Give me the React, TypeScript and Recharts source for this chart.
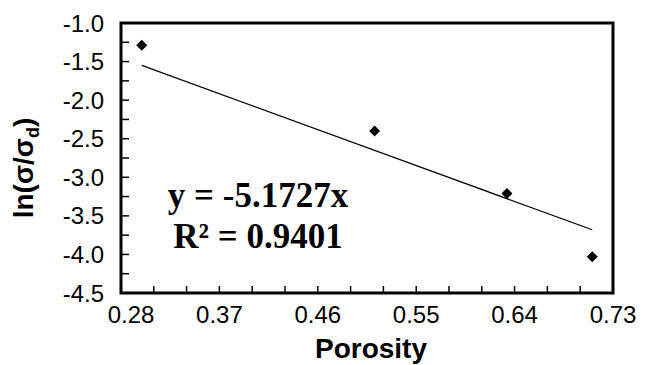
import { ScatterChart, Scatter, XAxis, YAxis, ReferenceArea, Label } from "recharts";

// points
const porosity = [0.299, 0.512, 0.633, 0.711];
const lnRatio = [-1.29, -2.4, -3.21, -4.03];

// ends of the fitted line (y = -5.1727x)
const trendPorosity = [0.299, 0.711];
const trendLnRatio = [-1.55, -3.68];

const xTicks = [0.28, 0.31, 0.34, 0.37, 0.4, 0.43, 0.46, 0.49, 0.52, 0.55, 0.58, 0.61, 0.64, 0.67, 0.7, 0.73];
const xTickLabels = ["0.28", "0.37", "0.46", "0.55", "0.64", "0.73"];
const yTicks = [-4.5, -4.25, -4, -3.75, -3.5, -3.25, -3, -2.75, -2.5, -2.25, -2, -1.75, -1.5, -1.25, -1];
const yTickLabels = ["-4.5", "-4.0", "-3.5", "-3.0", "-2.5", "-2.0", "-1.5", "-1.0"];

const SANS = "'Liberation Sans', Arial, sans-serif";
const SERIF = "'Liberation Serif', 'Times New Roman', serif";

const points = porosity.map((x, i) => ({ x, y: lnRatio[i] }));
const trend = trendPorosity.map((x, i) => ({ x, y: trendLnRatio[i] }));

const Diamond = (props: any) => {
  const { cx, cy } = props;
  const r = 5.5;
  return (
    <polygon
      points={`${cx},${cy - r} ${cx + r},${cy} ${cx},${cy + r} ${cx - r},${cy}`}
      fill="#000"
    />
  );
};

const XTick = (props: any) => {
  const { x, y, payload, index } = props;
  const label = Number(payload.value).toFixed(2);
  const major = xTickLabels.includes(label);
  return (
    <g>
      <line x1={x} y1={y} x2={x} y2={y - 7} stroke="#000" strokeWidth={1.5} />
      {major && (
        <text
          x={x + (index === 0 ? 10 : 0)}
          y={y + 30}
          textAnchor="middle"
          fontFamily={SANS}
          fontSize={24}
          fill="#000"
        >
          {label}
        </text>
      )}
    </g>
  );
};

const YTick = (props: any) => {
  const { x, y, payload } = props;
  const label = Number(payload.value).toFixed(1);
  const major = yTickLabels.includes(label) && Math.abs(payload.value * 2 - Math.round(payload.value * 2)) < 1e-9;
  return (
    <g>
      <line x1={x} y1={y} x2={x + 8} y2={y} stroke="#000" strokeWidth={1.5} />
      {major && (
        <text
          x={x - 17}
          y={y + 8.5}
          textAnchor="end"
          fontFamily={SANS}
          fontSize={24}
          fill="#000"
        >
          {label}
        </text>
      )}
    </g>
  );
};

const YTitle = (props: any) => {
  const { viewBox } = props;
  const cx = viewBox.x + 33;
  const cy = viewBox.y + viewBox.height / 2 + 10;
  return (
    <text
      x={cx}
      y={cy}
      transform={`rotate(-90, ${cx}, ${cy})`}
      textAnchor="middle"
      fontFamily={SANS}
      fontWeight="bold"
      fontSize={28}
      fill="#000"
    >
      ln(σ/σ
      <tspan fontSize={18} dy={6}>d</tspan>
      <tspan dy={-6}>)</tspan>
    </text>
  );
};

const XTitle = (props: any) => {
  const { viewBox } = props;
  return (
    <text
      x={viewBox.x + viewBox.width / 2 + 4}
      y={viewBox.y + 65}
      textAnchor="middle"
      fontFamily={SANS}
      fontWeight="bold"
      fontSize={28}
      fill="#000"
    >
      Porosity
    </text>
  );
};

export default function App() {
  return (
    <div style={{ position: "absolute", left: 0, top: 0, width: 645, height: 365, background: "#fff" }}>
      <ScatterChart width={645} height={365} margin={{ top: 23, right: 32, bottom: 0, left: 0 }}>
        <XAxis
          type="number"
          dataKey="x"
          domain={[0.28, 0.73]}
          ticks={xTicks}
          interval={0}
          allowDataOverflow
          axisLine={false}
          tickLine={false}
          tickSize={0}
          tickMargin={0}
          height={72}
          tick={<XTick />}
        >
          <Label content={<XTitle />} />
        </XAxis>
        <YAxis
          type="number"
          dataKey="y"
          domain={[-4.5, -1]}
          ticks={yTicks}
          interval={0}
          allowDataOverflow
          axisLine={false}
          tickLine={false}
          tickSize={0}
          tickMargin={0}
          width={121}
          tick={<YTick />}
        >
          <Label content={<YTitle />} />
        </YAxis>
        <ReferenceArea
          x1={0.28}
          x2={0.73}
          y1={-4.5}
          y2={-1}
          fill="none"
          fillOpacity={0}
          stroke="#000"
          strokeWidth={3}
        />
        <Scatter
          data={trend}
          line={{ stroke: "#000", strokeWidth: 1.2 }}
          shape={() => <g />}
          isAnimationActive={false}
        />
        <Scatter data={points} shape={<Diamond />} isAnimationActive={false} />
      </ScatterChart>
      <svg
        width={645}
        height={365}
        style={{ position: "absolute", left: 0, top: 0, pointerEvents: "none" }}
      >
        <text x={258} y={207} textAnchor="middle" fontFamily={SERIF} fontWeight="bold" fontSize={35} fill="#000">
          y = -5.1727x
        </text>
        <text x={258} y={248} textAnchor="middle" fontFamily={SERIF} fontWeight="bold" fontSize={35} fill="#000">
          R² = 0.9401
        </text>
      </svg>
    </div>
  );
}
